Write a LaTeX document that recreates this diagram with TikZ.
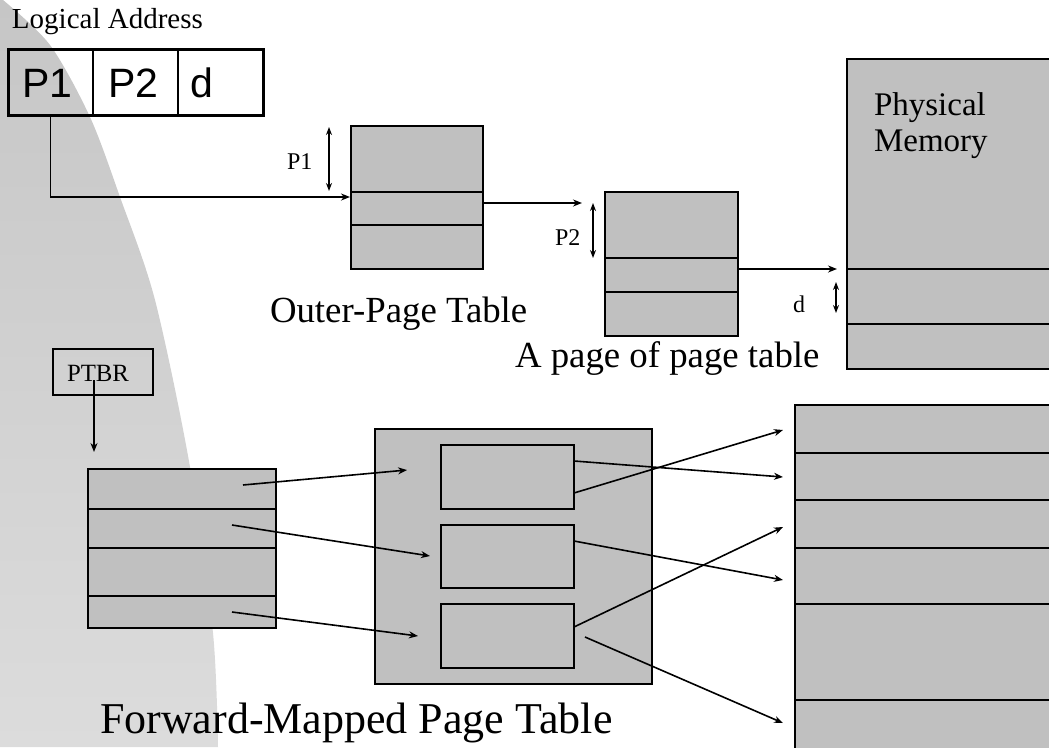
\documentclass[tikz,border=0pt]{standalone}
\usepackage{fontspec}
\setmainfont{Liberation Serif}
\newfontfamily\arialf{Liberation Sans}
\usetikzlibrary{arrows.meta}
\definecolor{cell}{HTML}{C0C0C0}
\definecolor{bgtop}{HTML}{C6C6C6}
\definecolor{bgbot}{HTML}{DCDCDC}
\begin{document}
\begin{tikzpicture}[x=1pt,y=-1pt,
  box/.style={draw=black,line width=2.1pt,fill=cell,inner sep=0pt,outer sep=0pt,anchor=north west},
  lacell/.style={draw=black,line width=1.4pt,inner sep=0pt,outer sep=0pt,anchor=north west,minimum width=85pt,minimum height=66pt},
  divider/.style={line width=2.1pt},
  conn/.style={line width=1.6pt,-{Stealth[length=9pt,width=7pt]}},
  dbl/.style={line width=1.6pt,{Stealth[length=8pt,width=6pt]}-{Stealth[length=8pt,width=6pt]}},
  lab/.style={inner sep=0pt,outer sep=0pt,anchor=base west}]
\useasboundingbox (0,0) rectangle (1049,747);
\clip (0,0) rectangle (1049,747);
% background swoosh
\shade[top color=bgtop,bottom color=bgbot]
  (0,0) -- plot[smooth] coordinates {(3,0) (50,45) (90,117) (120,197) (155,300) (190,467) (213,633) (218,747)} -- (0,747) -- cycle;

% Logical address
\node[lab,font=\fontsize{29}{30}\selectfont] (lalab) at (12,28) {Logical Address};
\node[lacell] (la1) at (8,49) {};
\node[lacell] (la2) at (93,49) {};
\node[lacell] (la3) at (178,49) {};
\draw[line width=3pt] (la1.north west) rectangle (la3.south east);
\node[lab,font=\arialf\fontsize{41}{41}\selectfont] (tp1) at (22,97) {P1};
\node[lab,font=\arialf\fontsize{41}{41}\selectfont] (tp2) at (108,97) {P2};
\node[lab,font=\arialf\fontsize{41}{41}\selectfont] (td) at (190,97) {d};

% Outer page table
\node[box,minimum width=132pt,minimum height=143pt] (outer) at (351,126) {};
\draw[divider] (351,192) -- (483,192);
\draw[divider] (351,225) -- (483,225);
\node[lab,font=\fontsize{36.8}{38}\selectfont] (outerlab) at (270,322) {Outer-Page Table};
\coordinate (p1top) at (329,127);
\coordinate (p1bot) at (329,191);
\draw[dbl] (p1top) -- (p1bot);
\node[lab,font=\fontsize{24}{26}\selectfont] (p1lab) at (287,169) {P1};
\coordinate (outerin) at (350,197);
\draw[conn] (la1.south) |- (outerin);

% Page of page table
\node[box,minimum width=133pt,minimum height=144pt] (page) at (605,192) {};
\draw[divider] (605,258) -- (738,258);
\draw[divider] (605,292) -- (738,292);
\node[lab,font=\fontsize{36.8}{38}\selectfont] (pagelab) at (515,367) {A page of page table};
\coordinate (outerout) at (483,203);
\coordinate (pagein) at (582,203);
\draw[conn] (outerout) -- (pagein);
\coordinate (p2top) at (593,203);
\coordinate (p2bot) at (593,258);
\draw[dbl] (p2top) -- (p2bot);
\node[lab,font=\fontsize{24}{26}\selectfont] (p2lab) at (555,245) {P2};

% Physical memory
\node[box,minimum width=220pt,minimum height=310pt] (mem) at (847,59) {};
\draw[divider] (847,269) -- (1060,269);
\draw[divider] (847,324) -- (1060,324);
\node[lab,font=\fontsize{33}{36}\selectfont] (memlab1) at (874,115) {Physical};
\node[lab,font=\fontsize{33}{36}\selectfont] (memlab2) at (874,151) {Memory};
\coordinate (pageout) at (738,269);
\coordinate (memin) at (837,269);
\draw[conn] (pageout) -- (memin);
\coordinate (dtop) at (836,282);
\coordinate (dbot) at (836,313);
\draw[dbl] (dtop) -- (dbot);
\node[lab,font=\fontsize{24}{26}\selectfont] (dlab) at (793,312) {d};

% PTBR
\node[draw=black,line width=1.6pt,inner sep=0pt,anchor=north west,minimum width=100pt,minimum height=46pt] (ptbr) at (52,348) {};
\node[lab,font=\fontsize{24.8}{26}\selectfont] (ptbrlab) at (67,381) {PTBR};
\coordinate (ptbrsrc) at (94,380);
\coordinate (ltin) at (94,452);
\draw[conn] (ptbrsrc) -- (ltin);

% Left table
\node[box,minimum width=188pt,minimum height=159pt] (lt) at (88,469) {};
\draw[divider] (88,509) -- (276,509);
\draw[divider] (88,548) -- (276,548);
\draw[divider] (88,596) -- (276,596);

% Middle box
\node[box,minimum width=277pt,minimum height=255pt] (mid) at (375,429) {};
\node[box,minimum width=133pt,minimum height=64pt] (b1) at (441,445) {};
\node[box,minimum width=133pt,minimum height=63pt] (b2) at (441,525) {};
\node[box,minimum width=133pt,minimum height=64pt] (b3) at (441,604) {};
\node[lab,font=\fontsize{44}{46}\selectfont] (fwdlab) at (100,733) {Forward-Mapped Page Table};

% Lower memory
\node[box,minimum width=270pt,minimum height=350pt] (mem2) at (795,405) {};
\foreach \yy in {453,500,548,604,700} \draw[divider] (795,\yy) -- (1060,\yy);

% Arrows left table -> middle
\coordinate (l1) at (243,485);  \coordinate (m1) at (407,470);
\coordinate (l2) at (232,525);  \coordinate (m2) at (430,556);
\coordinate (l3) at (232,612);  \coordinate (m3) at (418,636);
\draw[conn] (l1) -- (m1);
\draw[conn] (l2) -- (m2);
\draw[conn] (l3) -- (m3);

% Arrows middle -> memory
\coordinate (s1) at (574,461);  \coordinate (t1) at (783,477);
\coordinate (s2) at (574,493);  \coordinate (t2) at (783,430);
\coordinate (s3) at (574,541);  \coordinate (t3) at (783,580);
\coordinate (s4) at (574,627);  \coordinate (t4) at (783,527);
\coordinate (s5) at (585,637);  \coordinate (t5) at (783,723);
\draw[conn] (s1) -- (t1);
\draw[conn] (s2) -- (t2);
\draw[conn] (s3) -- (t3);
\draw[conn] (s4) -- (t4);
\draw[conn] (s5) -- (t5);
\end{tikzpicture}
\end{document}
